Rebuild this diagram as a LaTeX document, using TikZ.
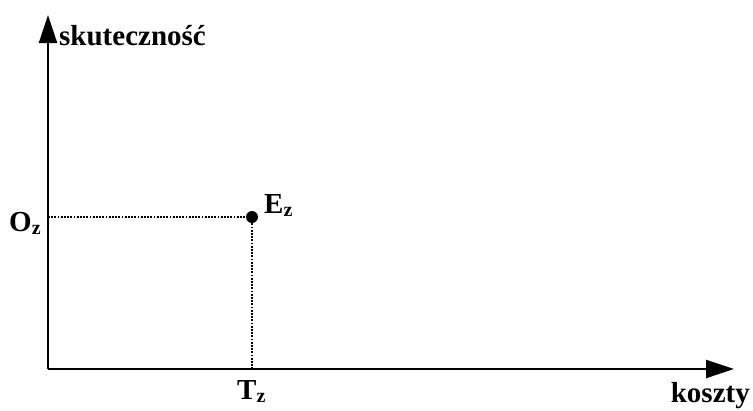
\documentclass[tikz,border=0pt]{standalone}
\usepackage{fontspec}
\setmainfont{Liberation Serif}
\usetikzlibrary{arrows.meta}
\begin{document}
\begin{tikzpicture}[x=1pt,y=-1pt,
  axis/.style={line width=2.4pt,-{Triangle[length=28pt,width=18pt]}},
  guide/.style={line width=2pt,dash pattern=on 1.8pt off 1.4pt},
  lbl/.style={font=\fontsize{29}{31}\selectfont\bfseries,inner sep=0pt},
  sub/.style={}]
\useasboundingbox (0,0) rectangle (753,410);
\coordinate (o) at (48,369);
\coordinate (ytip) at (48,15);
\coordinate (xtip) at (734,369);
\coordinate (e) at (252,217);
\coordinate (ey) at (48,217);
\coordinate (ex) at (252,369);
\draw[axis] (o) -- (ytip);
\draw[axis] (o) -- (xtip);
\draw[guide] (ey) -- (e);
\draw[guide] (e) -- (ex);
\fill (e) circle (6pt);
\node[lbl,anchor=base west] (sk) at (59,45) {skuteczność};
\node[lbl,anchor=base east] (ko) at (750,402) {koszty};
\node[lbl,anchor=base west] (oz) at (9,231) {O{\fontsize{20}{22}\selectfont\raisebox{-3pt}{z}}};
\node[lbl,anchor=base west] (ez) at (264,213) {E{\fontsize{20}{22}\selectfont\raisebox{-3pt}{z}}};
\node[lbl,anchor=base west] (tz) at (237,399) {T{\fontsize{20}{22}\selectfont\raisebox{-3pt}{z}}};
\end{tikzpicture}
\end{document}
